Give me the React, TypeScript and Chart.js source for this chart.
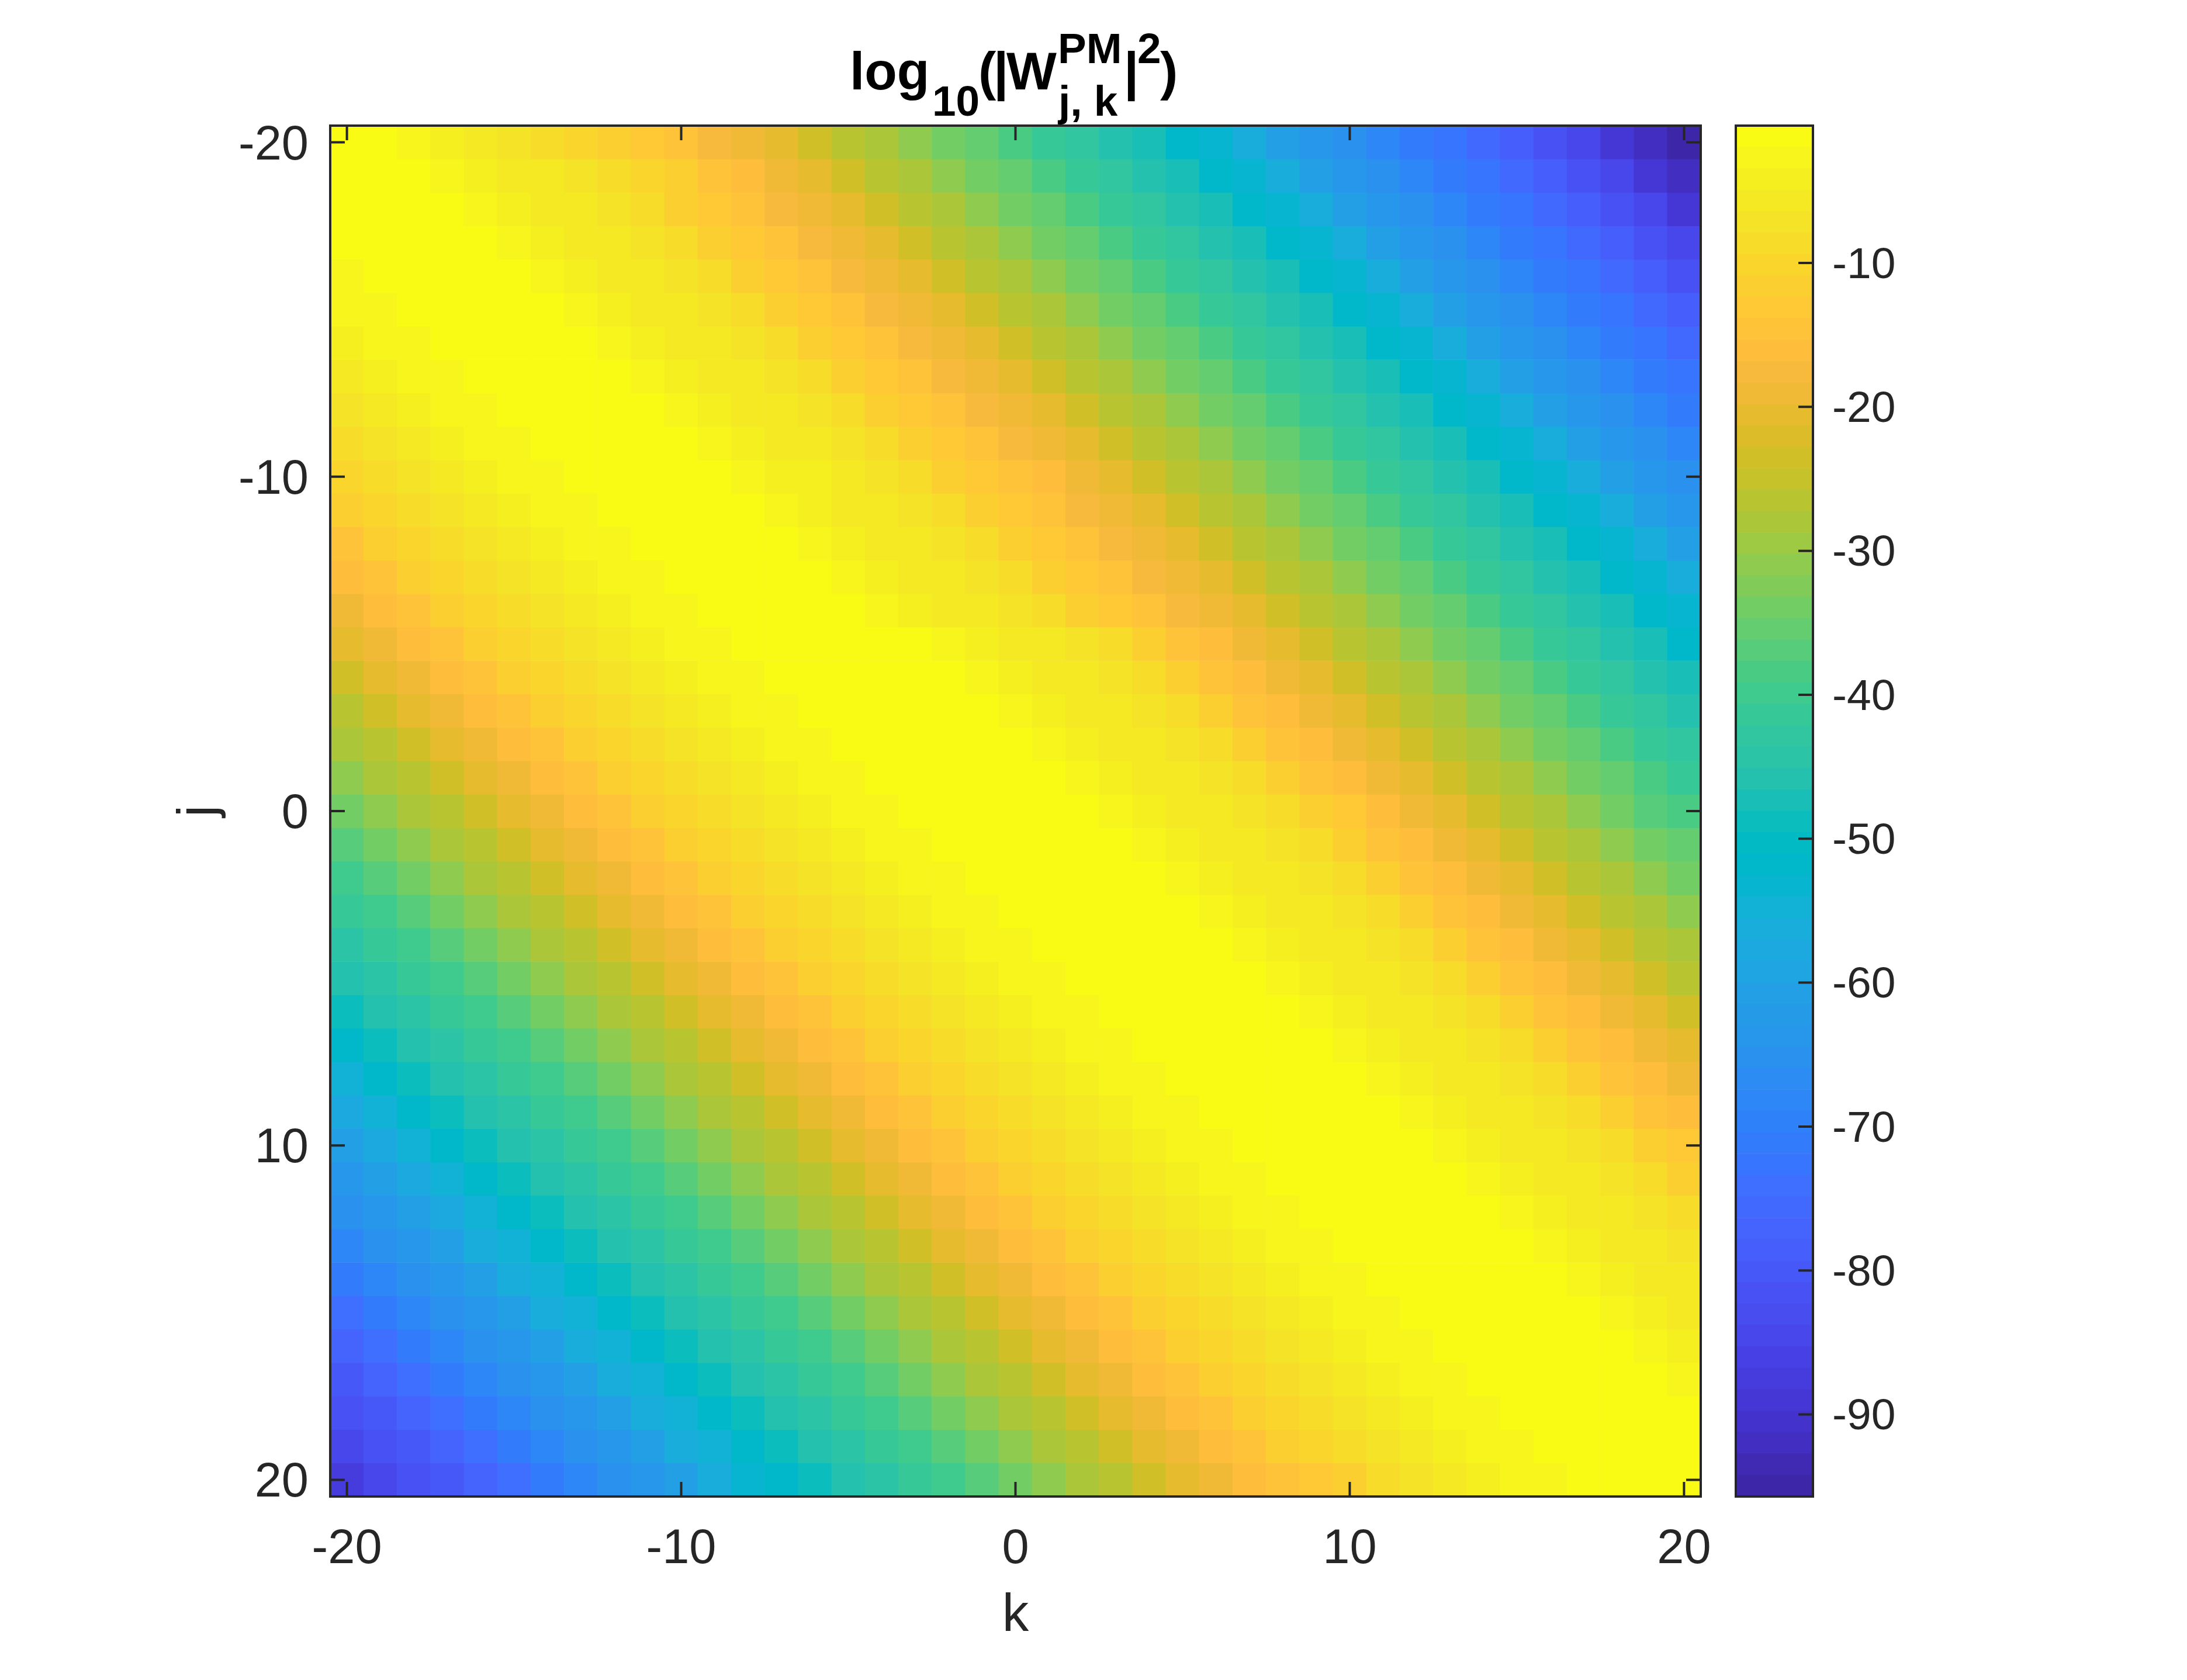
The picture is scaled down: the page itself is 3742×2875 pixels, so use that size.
import React, { useEffect, useRef } from "react";
import Chart from "chart.js/auto";

const kValues = [-20,-19,-18,-17,-16,-15,-14,-13,-12,-11,-10,-9,-8,-7,-6,-5,-4,-3,-2,-1,0,1,2,3,4,5,6,7,8,9,10,11,12,13,14,15,16,17,18,19,20];
const jValues = [...kValues];
const axisTicks = [-20,-10,0,10,20];
const colorbarTicks = [-90,-80,-70,-60,-50,-40,-30,-20,-10];
const colorMin = -95.7;
const colorMax = -0.46;

const logW = [
[-1,-1,-2,-3.5,-5,-7,-9,-10.5,-12,-13,-15,-17,-19,-21,-24,-26,-28.5,-31,-33.5,-36,-38.5,-41,-43,-45.5,-48,-51.5,-54,-57,-60,-63,-65,-68,-70.5,-73,-76,-79,-82,-85,-89,-92.5,-95],
[-1,-1,-1,-2,-3.5,-5,-6,-7,-8,-10,-12,-14,-16.5,-19,-21,-24,-26,-28.5,-31,-33.5,-36,-38.5,-41,-43,-45.5,-48,-51.5,-54,-57,-60,-63,-65,-68,-70.5,-73,-76,-79,-82,-85,-89,-92.5],
[-1,-1,-1,-1.5,-3,-4,-5,-6,-7,-9,-11.5,-13.5,-15,-17,-19,-21,-24,-26,-28.5,-31,-33.5,-36,-38.5,-41,-43,-45.5,-48,-51.5,-54,-57,-60,-63,-65,-68,-70.5,-73,-76,-79,-82,-85,-89],
[-1.5,-1,-1,-1,-1.5,-3,-4,-5,-6,-7,-9,-11.5,-13.5,-15,-17,-19,-21,-24,-26,-28.5,-31,-33.5,-36,-38.5,-41,-43,-45.5,-48,-51.5,-54,-57,-60,-63,-65,-68,-70.5,-73,-76,-79,-82,-85],
[-2,-1.5,-1,-1,-1,-1.5,-3,-4,-5,-6,-7,-9,-11.5,-13.5,-15,-17,-19,-21,-24,-26,-28.5,-31,-33.5,-36,-38.5,-41,-43,-45.5,-48,-51.5,-54,-57,-60,-63,-65,-68,-70.5,-73,-76,-79,-82],
[-3,-2,-1.5,-1,-1,-1,-1.5,-3,-4,-5,-6,-7,-9,-11.5,-13.5,-15,-17,-19,-21,-24,-26,-28.5,-31,-33.5,-36,-38.5,-41,-43,-45.5,-48,-51.5,-54,-57,-60,-63,-65,-68,-70.5,-73,-76,-79],
[-4.5,-3,-2,-1.5,-1,-1,-1,-1.5,-3,-4,-5,-6,-7,-9,-11.5,-13.5,-15,-17,-19,-21,-24,-26,-28.5,-31,-33.5,-36,-38.5,-41,-43,-45.5,-48,-51.5,-54,-57,-60,-63,-65,-68,-70.5,-73,-76],
[-5.5,-4.5,-3,-2,-1.5,-1,-1,-1,-1.5,-3,-4,-5,-6,-7,-9,-11.5,-13.5,-15,-17,-19,-21,-24,-26,-28.5,-31,-33.5,-36,-38.5,-41,-43,-45.5,-48,-51.5,-54,-57,-60,-63,-65,-68,-70.5,-73],
[-7,-5.5,-4.5,-3,-2,-1.5,-1,-1,-1,-1.5,-3,-4,-5,-6,-7,-9,-11.5,-13.5,-15,-17,-19,-21,-24,-26,-28.5,-31,-33.5,-36,-38.5,-41,-43,-45.5,-48,-51.5,-54,-57,-60,-63,-65,-68,-70.5],
[-8.5,-7,-5.5,-4.5,-3,-2,-1.5,-1,-1,-1,-1.5,-3,-4,-5,-6,-7,-9,-11.5,-13.5,-15,-17,-19,-21,-24,-26,-28.5,-31,-33.5,-36,-38.5,-41,-43,-45.5,-48,-51.5,-54,-57,-60,-63,-65,-68],
[-10,-8.5,-7,-5.5,-4.5,-3,-2,-1.5,-1,-1,-1,-1.5,-2.5,-3.5,-4.5,-5.5,-7,-8.5,-11,-13.5,-15,-16.5,-19,-21,-24,-26,-28.5,-31,-33.5,-36,-38.5,-41,-43,-45.5,-48,-51.5,-54,-57,-60,-63,-65],
[-12,-10,-8.5,-7,-5.5,-4.5,-3,-2,-1.5,-1,-1,-1,-1.5,-3,-4,-5,-6,-7,-9,-11.5,-13.5,-15,-17,-19,-21,-24,-26,-28.5,-31,-33.5,-36,-38.5,-41,-43,-45.5,-48,-51.5,-54,-57,-60,-63],
[-14,-12,-10,-8.5,-7,-5.5,-4.5,-3,-2,-1.5,-1,-1,-1,-1.5,-3,-4,-5,-6,-7,-9,-11.5,-13.5,-15,-17,-19,-21,-24,-26,-28.5,-31,-33.5,-36,-38.5,-41,-43,-45.5,-48,-51.5,-54,-57,-60],
[-16.5,-14,-12,-10,-8.5,-7,-5.5,-4.5,-3,-2,-1.5,-1,-1,-1,-1.5,-3,-4,-5,-6,-7,-9,-11.5,-13.5,-15,-17,-19,-21,-24,-26,-28.5,-31,-33.5,-36,-38.5,-41,-43,-45.5,-48,-51.5,-54,-57],
[-19,-16.5,-14,-12,-10,-8.5,-7,-5.5,-4.5,-3,-2,-1.5,-1,-1,-1,-1.5,-3,-4,-5,-6,-7,-9,-11.5,-13.5,-15,-17,-19,-21,-24,-26,-28.5,-31,-33.5,-36,-38.5,-41,-43,-45.5,-48,-51.5,-54],
[-21,-19,-16.5,-14,-12,-10,-8.5,-7,-5.5,-4.5,-3,-2,-1.5,-1,-1,-1,-1,-1.5,-3,-3.5,-5,-6,-7,-9,-11.5,-14,-16.5,-19,-21,-24,-26,-28.5,-31,-33.5,-36,-38.5,-41,-43,-45.5,-48,-51.5],
[-24,-21,-19,-16.5,-14,-12,-10,-8.5,-7,-5.5,-4.5,-3,-2,-1.5,-1,-1,-1,-1,-1.5,-3,-3.5,-5,-6,-7,-9,-11.5,-14,-16.5,-19,-21,-24,-26,-28.5,-31,-33.5,-36,-38.5,-41,-43,-45.5,-48],
[-26,-24,-21,-19,-16.5,-14,-12,-10,-8.5,-7,-5.5,-4.5,-3,-2,-1.5,-1,-1,-1,-1,-1.5,-3,-3.5,-5,-6,-7,-9,-11.5,-14,-16.5,-19,-21,-24,-26,-28.5,-31,-33.5,-36,-38.5,-41,-43,-45.5],
[-28.5,-26,-24,-21,-19,-16.5,-14,-12,-10,-8.5,-7,-5.5,-4.5,-3,-2,-1.5,-1,-1,-1,-1,-1.5,-3,-3.5,-5,-6,-7,-9,-11.5,-14,-16.5,-19,-21,-24,-26,-28.5,-31,-33.5,-36,-38.5,-41,-43],
[-31,-28.5,-26,-24,-21,-19,-16.5,-14,-12,-10,-8.5,-7,-5.5,-4.5,-3,-2,-1.5,-1,-1,-1,-1,-1.5,-3,-3.5,-5,-6,-7,-9,-11.5,-14,-16.5,-19,-21,-24,-26,-28.5,-31,-33.5,-36,-38.5,-41],
[-34.5,-31,-28.5,-26,-24,-21,-19,-16.5,-14,-12,-10,-8.5,-7,-5.5,-4.5,-3,-2,-1.5,-1,-1,-1,-1,-1.5,-3,-3.5,-5,-5.5,-7,-9,-11,-13.5,-16,-19,-21,-24,-26,-28.5,-31,-34,-36.5,-39],
[-37,-34.5,-31,-28.5,-26,-24,-21,-19,-16.5,-14,-12,-10,-8.5,-7,-5.5,-4.5,-3,-2,-1.5,-1,-1,-1,-1,-1.5,-3,-3.5,-5,-6,-7,-9,-11.5,-14,-16.5,-19,-21,-24,-26,-28.5,-31,-33.5,-36],
[-39.5,-37,-34.5,-31,-28.5,-26,-24,-21,-19,-16.5,-14,-12,-10,-8.5,-7,-5.5,-4.5,-3,-2,-1.5,-1,-1,-1,-1,-1.5,-3,-3.5,-5,-6,-7,-9,-11.5,-14,-16.5,-19,-21,-24,-26,-28.5,-31,-33.5],
[-42,-39.5,-37,-34.5,-31,-28.5,-26,-24,-21,-19,-16.5,-14,-12,-10,-8.5,-7,-5.5,-4.5,-3,-2,-1.5,-1,-1,-1,-1,-1.5,-3,-3.5,-5,-6,-7,-9,-11.5,-14,-16.5,-19,-21,-24,-26,-28.5,-31],
[-44,-42,-39.5,-37,-34.5,-31,-28.5,-26,-24,-21,-19,-16.5,-14,-12,-10,-8.5,-7,-5.5,-4.5,-3,-2,-1.5,-1,-1,-1,-1,-1.5,-3,-3.5,-5,-6,-7,-9,-11.5,-14,-16.5,-19,-21,-24,-26,-28.5],
[-46,-44,-42,-39.5,-37,-34.5,-31,-28.5,-26,-24,-21,-19,-16.5,-14,-12,-10,-8.5,-7,-5.5,-4.5,-3,-2,-1.5,-1,-1,-1,-1,-1.5,-2.5,-3.5,-5,-6,-7,-9,-11.5,-14,-16.5,-19,-21,-24,-26],
[-48.5,-46,-44,-42,-39.5,-37,-34.5,-31,-28.5,-26,-24,-21,-19,-16.5,-14,-12,-10,-8.5,-7,-5.5,-4.5,-3,-2,-1.5,-1,-1,-1,-1,-1.5,-3,-3.5,-5,-6,-7,-9,-11.5,-14,-16.5,-19,-21,-24],
[-52,-48.5,-46,-44,-42,-39.5,-37,-34.5,-31,-28.5,-26,-24,-21,-19,-16.5,-14,-12,-10,-8.5,-7,-5.5,-4.5,-3,-2,-1.5,-1,-1,-1,-1,-1.5,-3,-3.5,-5,-6,-7,-9,-11.5,-14,-16.5,-19,-21],
[-54.5,-52,-48.5,-46,-44,-42,-39.5,-37,-34.5,-31,-28.5,-26,-24,-21,-19,-16.5,-14,-12,-10,-8.5,-7,-5.5,-4.5,-3,-2,-1.5,-1,-1,-1,-1,-1.5,-3,-3.5,-5,-6,-7,-9,-11.5,-14,-16.5,-19],
[-58,-54.5,-52,-48.5,-46,-44,-42,-39.5,-37,-34.5,-31,-28.5,-26,-24,-21,-19,-16.5,-14,-12,-10,-8.5,-7,-5.5,-4.5,-3,-2,-1.5,-1,-1,-1,-1,-1.5,-3,-3.5,-5,-6,-7,-9,-11.5,-14,-16.5],
[-61,-58,-54.5,-52,-48.5,-46,-44,-42,-39.5,-37,-34.5,-31,-28.5,-26,-24,-21,-19,-16.5,-14,-12,-10,-8.5,-7,-5.5,-4.5,-3,-2,-1.5,-1,-1,-1,-1,-1.5,-2.5,-3.5,-5,-6,-7,-9,-12,-13.5],
[-63,-60,-58,-54.5,-52,-48.5,-46,-44,-42,-39.5,-37,-34.5,-31,-28.5,-26,-24,-21,-19,-16.5,-14,-12,-10,-8.5,-7,-5.5,-4.5,-3,-2,-1.5,-1,-1,-1,-1,-1.5,-3,-3.5,-5,-6,-7,-9,-11.5],
[-65,-63,-60,-58,-54.5,-52,-48.5,-46,-44,-42,-39.5,-37,-34.5,-31,-28.5,-26,-24,-21,-19,-16.5,-14,-12,-10,-8.5,-7,-5.5,-4.5,-3,-2,-1.5,-1,-1,-1,-1,-1.5,-3,-3.5,-5,-6,-7,-9],
[-68,-65,-63,-60,-57,-54.5,-52,-48.5,-46,-44,-42,-39.5,-37,-34.5,-31,-28.5,-26,-24,-21,-19,-16.5,-14,-12,-10,-8.5,-7,-5.5,-4.5,-3,-2,-1.5,-1,-1,-1,-1,-1.5,-3,-3.5,-5,-6,-7],
[-71,-68,-65,-63,-60,-57,-54.5,-52,-48.5,-46,-44,-42,-39.5,-37,-34.5,-31,-28.5,-26,-24,-21,-19,-16.5,-14,-12,-10,-8.5,-7,-5.5,-4.5,-3,-2,-1.5,-1,-1,-1,-1,-1.5,-3,-3.5,-5,-6],
[-74,-71,-68,-65,-63,-60,-57,-54.5,-52,-48.5,-46,-44,-42,-39.5,-37,-34.5,-31,-28.5,-26,-24,-21,-19,-16.5,-14,-12,-10,-8.5,-7,-5.5,-4.5,-3,-2,-1.5,-1,-1,-1,-1,-1.5,-3,-3.5,-5],
[-77,-74,-71,-68,-65,-63,-60,-57,-54.5,-52,-48.5,-46,-44,-42,-39.5,-37,-34.5,-31,-28.5,-26,-24,-21,-19,-16.5,-14,-12,-10,-8.5,-7,-5.5,-4.5,-3,-2,-1.5,-1,-1,-1,-1,-1.5,-2.5,-3.5],
[-80,-77,-74,-71,-68,-65,-63,-60,-57,-54.5,-52,-48.5,-46,-44,-42,-39.5,-37,-34.5,-31,-28.5,-26,-24,-21,-19,-16.5,-14,-12,-10,-8.5,-7,-5.5,-4.5,-3,-2,-1.5,-1,-1,-1,-1,-1.5,-2.5],
[-82,-80,-77,-74,-71,-68,-65,-63,-60,-57,-54.5,-52,-48.5,-46,-44,-42,-39.5,-37,-34.5,-31,-28.5,-26,-24,-21,-19,-16.5,-14,-12,-10,-8.5,-7,-5.5,-4.5,-3,-2,-1.5,-1,-1,-1,-1,-1.5],
[-85,-82,-80,-77,-74,-71,-68,-65,-63,-60,-57,-54.5,-52,-48.5,-46,-44,-42,-39.5,-37,-34.5,-31,-28.5,-26,-24,-21,-19,-16.5,-14,-12,-10,-8.5,-7,-5.5,-4.5,-3,-2,-1.5,-1,-1,-1,-1],
[-88,-85,-82,-80,-77,-74,-71,-68,-65,-63,-60,-57,-54,-52,-48.5,-46,-44,-42,-39.5,-37,-34.5,-31,-28.5,-26,-24,-21,-19,-16.5,-14,-12.5,-11,-8.5,-7,-5.5,-4.5,-3,-2,-1.5,-1,-1,-1],
];

const parula = [
[0.2422,0.1504,0.6603],[0.2504,0.1650,0.7076],[0.2578,0.1818,0.7511],[0.2647,0.1978,0.7952],
[0.2706,0.2147,0.8364],[0.2751,0.2342,0.8710],[0.2783,0.2559,0.8991],[0.2803,0.2782,0.9221],
[0.2813,0.3006,0.9414],[0.2810,0.3228,0.9579],[0.2795,0.3447,0.9717],[0.2760,0.3667,0.9829],
[0.2699,0.3892,0.9906],[0.2602,0.4123,0.9952],[0.2440,0.4358,0.9988],[0.2206,0.4603,0.9973],
[0.1963,0.4847,0.9892],[0.1834,0.5074,0.9798],[0.1786,0.5289,0.9682],[0.1764,0.5499,0.9520],
[0.1687,0.5703,0.9359],[0.1540,0.5902,0.9218],[0.1460,0.6091,0.9079],[0.1380,0.6276,0.8973],
[0.1248,0.6459,0.8883],[0.1113,0.6635,0.8763],[0.0952,0.6798,0.8598],[0.0689,0.6948,0.8394],
[0.0297,0.7082,0.8163],[0.0036,0.7203,0.7917],[0.0067,0.7312,0.7660],[0.0433,0.7411,0.7394],
[0.0964,0.7500,0.7120],[0.1408,0.7584,0.6842],[0.1717,0.7670,0.6554],[0.1938,0.7758,0.6251],
[0.2161,0.7843,0.5923],[0.2470,0.7918,0.5567],[0.2906,0.7973,0.5188],[0.3406,0.8008,0.4789],
[0.3909,0.8029,0.4354],[0.4456,0.8024,0.3909],[0.5044,0.7993,0.3480],[0.5616,0.7942,0.3045],
[0.6174,0.7876,0.2612],[0.6720,0.7793,0.2227],[0.7242,0.7698,0.1910],[0.7738,0.7598,0.1646],
[0.8203,0.7498,0.1535],[0.8634,0.7406,0.1596],[0.9035,0.7330,0.1774],[0.9393,0.7288,0.2100],
[0.9728,0.7298,0.2394],[0.9956,0.7434,0.2371],[0.9970,0.7659,0.2199],[0.9952,0.7893,0.2028],
[0.9892,0.8136,0.1885],[0.9786,0.8386,0.1766],[0.9676,0.8639,0.1643],[0.9610,0.8890,0.1537],
[0.9597,0.9135,0.1423],[0.9628,0.9373,0.1265],[0.9691,0.9606,0.1064],[0.9769,0.9839,0.0805],
];

const INK = "#262626";
const FONT = "'Liberation Sans', Arial, sans-serif";
const W = 3742;
const H = 2875;

function rgb(i: number) {
  const c = parula[i];
  return `rgb(${Math.round(c[0] * 255)},${Math.round(c[1] * 255)},${Math.round(c[2] * 255)})`;
}
function colorOf(v: number) {
  const i = Math.floor(((v - colorMin) / (colorMax - colorMin)) * parula.length);
  return rgb(Math.max(0, Math.min(parula.length - 1, i)));
}

const titleParts: [string, number, number, number][] = [
  ["log", 1454, 153, 91],
  ["10", 1595, 198, 73],
  ["(", 1674, 153, 91],
  ["|", 1700, 153, 91],
  ["W", 1722, 153, 91],
  ["PM", 1810, 108, 73],
  ["j, k", 1811, 198, 73],
  ["|", 1923, 153, 91],
  ["2", 1946, 108, 73],
  [")", 1985, 153, 91],
];

const frameLine = 4;
const tickLen = 25;

const mainFrame = {
  id: "mainFrame",
  afterDraw(chart: any) {
    const { ctx, chartArea: a, scales } = chart;
    ctx.save();
    ctx.strokeStyle = INK;
    ctx.lineWidth = frameLine;
    ctx.strokeRect(a.left, a.top, a.right - a.left, a.bottom - a.top);
    ctx.beginPath();
    axisTicks.forEach((t) => {
      const x = scales.x.getPixelForValue(t);
      ctx.moveTo(x, a.top); ctx.lineTo(x, a.top + tickLen);
      ctx.moveTo(x, a.bottom); ctx.lineTo(x, a.bottom - tickLen);
      const y = scales.y.getPixelForValue(t);
      ctx.moveTo(a.left, y); ctx.lineTo(a.left + tickLen, y);
      ctx.moveTo(a.right, y); ctx.lineTo(a.right - tickLen, y);
    });
    ctx.stroke();
    ctx.fillStyle = "#000";
    ctx.textBaseline = "alphabetic";
    ctx.textAlign = "left";
    titleParts.forEach(([s, x, y, size]) => {
      ctx.font = `bold ${size}px ${FONT}`;
      ctx.fillText(s, x, y);
    });
    ctx.restore();
  },
};

const barFrame = {
  id: "barFrame",
  afterDraw(chart: any) {
    const { ctx, chartArea: a, scales } = chart;
    ctx.save();
    ctx.strokeStyle = INK;
    ctx.lineWidth = frameLine;
    ctx.strokeRect(a.left, a.top, a.right - a.left, a.bottom - a.top);
    ctx.beginPath();
    colorbarTicks.forEach((t) => {
      const y = scales.y.getPixelForValue(t);
      ctx.moveTo(a.right, y); ctx.lineTo(a.right - tickLen, y);
    });
    ctx.stroke();
    ctx.restore();
  },
};

export default function App() {
  const mainRef = useRef<HTMLCanvasElement>(null);
  const barRef = useRef<HTMLCanvasElement>(null);

  useEffect(() => {
    const main = new Chart(mainRef.current!, {
      type: "bar",
      data: {
        datasets: jValues.map((j, r) => ({
          label: `j=${j}`,
          data: kValues.map((k) => ({ x: k, y: [j - 0.5, j + 0.5] })),
          backgroundColor: logW[r].map(colorOf),
          borderWidth: 0,
          grouped: false,
          barPercentage: 1,
          categoryPercentage: 1,
        })),
      } as any,
      options: {
        animation: false,
        responsive: false,
        devicePixelRatio: 1,
        events: [],
        layout: { padding: { left: 0, top: 215, right: W - 2910, bottom: 0 } },
        plugins: { legend: { display: false }, tooltip: { enabled: false } },
        scales: {
          x: {
            type: "linear",
            offset: false,
            min: -20.5,
            max: 20.5,
            afterBuildTicks: (s: any) => { s.ticks = axisTicks.map((v) => ({ value: v })); },
            afterFit: (s: any) => { s.height = H - 2561; },
            grid: { display: false, drawTicks: false },
            border: { display: false },
            ticks: { color: INK, font: { family: FONT, size: 83 }, padding: 41, maxRotation: 0, autoSkip: false },
            title: { display: true, text: "k", color: INK, font: { family: FONT, size: 91 }, padding: { top: 0, bottom: 54 } },
          },
          y: {
            type: "linear",
            reverse: true,
            min: -20.5,
            max: 20.5,
            afterBuildTicks: (s: any) => { s.ticks = axisTicks.map((v) => ({ value: v })); },
            afterFit: (s: any) => { s.width = 565; },
            grid: { display: false, drawTicks: false },
            border: { display: false },
            ticks: { color: INK, font: { family: FONT, size: 83 }, padding: 37, labelOffset: 6, autoSkip: false },
            title: { display: true, text: "j", color: INK, font: { family: FONT, size: 91 }, padding: { top: 287, bottom: 0 } },
          },
        },
      },
      plugins: [mainFrame],
    } as any);

    const step = (colorMax - colorMin) / parula.length;
    const bar = new Chart(barRef.current!, {
      type: "bar",
      data: {
        labels: ["colorbar"],
        datasets: parula.map((_, i) => ({
          label: `level ${i}`,
          data: [[colorMin + i * step, colorMin + (i + 1) * step]],
          backgroundColor: rgb(i),
          borderWidth: 0,
          grouped: false,
          barPercentage: 1,
          categoryPercentage: 1,
        })),
      } as any,
      options: {
        animation: false,
        responsive: false,
        devicePixelRatio: 1,
        events: [],
        layout: { padding: { left: 2970, top: 215, right: 0, bottom: H - 2561 } },
        plugins: { legend: { display: false }, tooltip: { enabled: false } },
        scales: {
          x: { display: false },
          y: {
            type: "linear",
            position: "right",
            min: colorMin,
            max: colorMax,
            afterBuildTicks: (s: any) => { s.ticks = colorbarTicks.map((v) => ({ value: v })); },
            afterFit: (s: any) => { s.width = W - 3102; },
            grid: { display: false, drawTicks: false },
            border: { display: false },
            ticks: { color: INK, font: { family: FONT, size: 75 }, padding: 33, labelOffset: 5, autoSkip: false },
          },
        },
      },
      plugins: [barFrame],
    } as any);

    return () => {
      main.destroy();
      bar.destroy();
    };
  }, []);

  const layer: React.CSSProperties = { position: "absolute", left: 0, top: 0, display: "block" };
  return (
    <div style={{ position: "absolute", left: 0, top: 0, width: W, height: H, background: "#fff", overflow: "hidden" }}>
      <canvas ref={mainRef} width={W} height={H} style={layer} />
      <canvas ref={barRef} width={W} height={H} style={layer} />
    </div>
  );
}
